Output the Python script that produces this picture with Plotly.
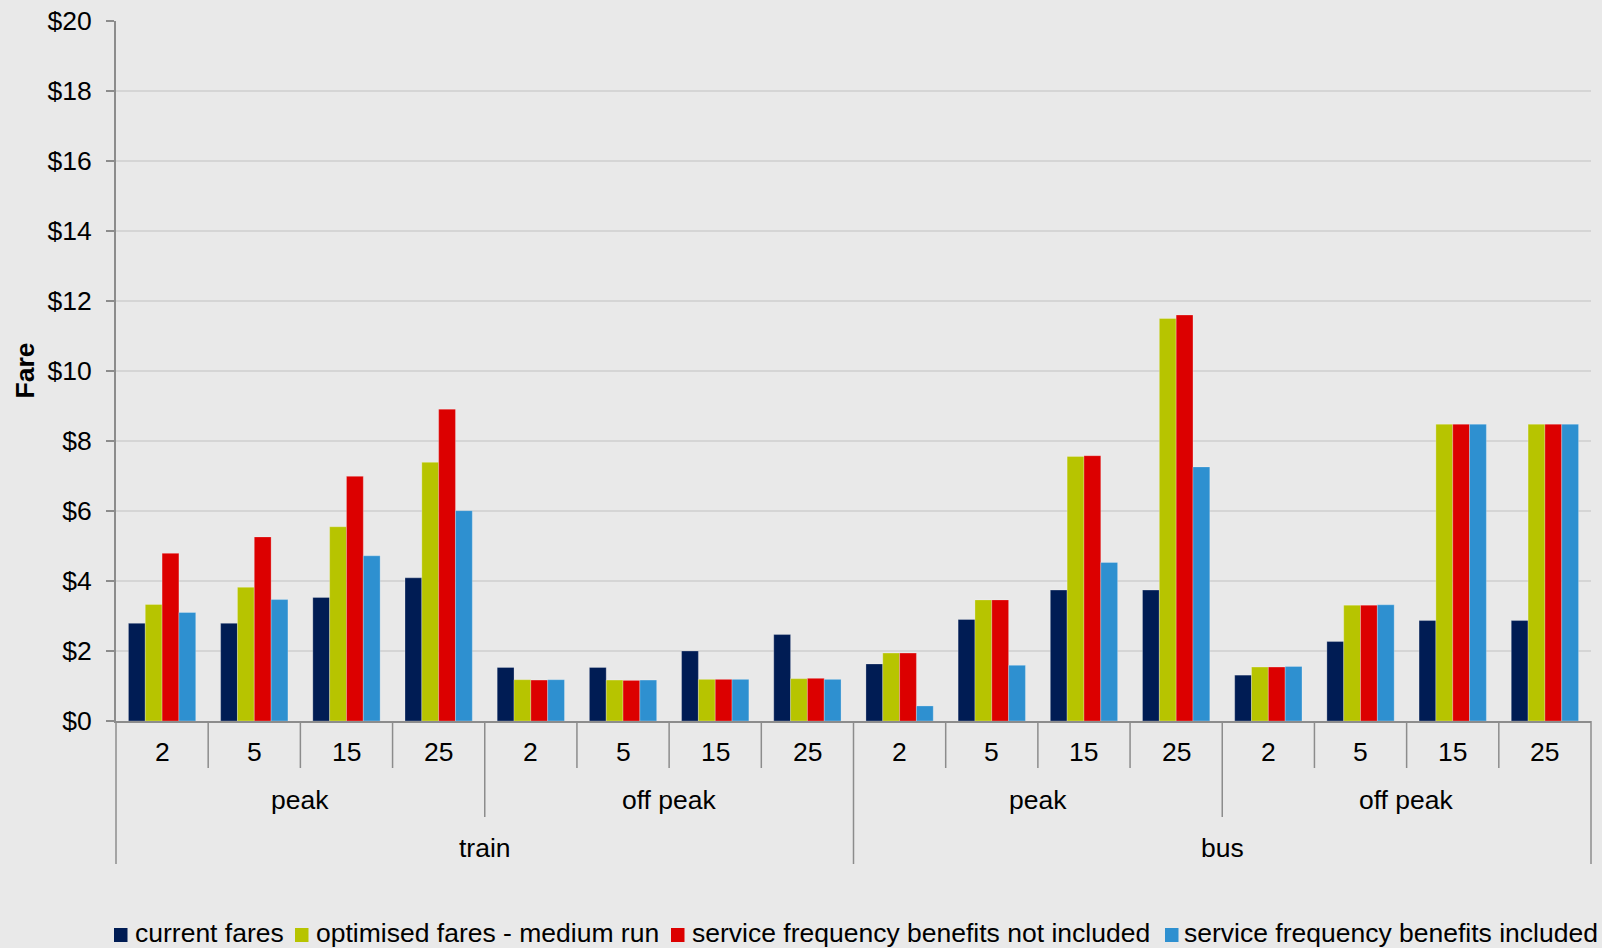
import plotly.graph_objects as go

# ---- data -------------------------------------------------------------
modes = ["train", "bus"]
periods = ["peak", "off peak"]
distances = ["2", "5", "15", "25"]

series_names = [
    "current fares",
    "optimised fares - medium run",
    "service frequency benefits not included",
    "service frequency benefits included",
]

current_fares = [2.79, 2.79, 3.53, 4.09, 1.53, 1.53, 2.00, 2.47,
                 1.63, 2.90, 3.74, 3.74, 1.31, 2.27, 2.87, 2.87]
optimised_fares = [3.33, 3.82, 5.55, 7.39, 1.18, 1.17, 1.19, 1.21,
                   1.94, 3.46, 7.56, 11.50, 1.54, 3.31, 8.48, 8.48]
benefits_not_included = [4.79, 5.26, 6.99, 8.91, 1.17, 1.16, 1.19, 1.22,
                         1.94, 3.46, 7.58, 11.60, 1.54, 3.31, 8.48, 8.48]
benefits_included = [3.10, 3.47, 4.72, 6.01, 1.18, 1.17, 1.19, 1.19,
                     0.43, 1.59, 4.53, 7.26, 1.56, 3.32, 8.48, 8.48]

y_ticks = list(range(0, 21, 2))

# ---- styling ----------------------------------------------------------
colors = ["#001c54", "#b7c400", "#dc0000", "#2e90d0"]
bg = "#e9e9e9"
axis_col = "#8c8c8c"
grid_col = "#d5d5d5"
font_family = "Liberation Sans, Arial, sans-serif"
fs = 26.5

W, H = 1602, 948
ml, mr, mt, mb = 116, 11, 21, 227
plot_w = W - ml - mr
plot_h = H - mt - mb

# category keys: one per mode / period / distance combination
keys = [f"{m} {p} {d}" for m in modes for p in periods for d in distances]
n_cat = len(keys)
n_per_period = len(distances)
n_per_mode = len(periods) * len(distances)

fig = go.Figure()
for name, vals, col in zip(series_names,
                           [current_fares, optimised_fares,
                            benefits_not_included, benefits_included],
                           colors):
    fig.add_trace(go.Bar(
        x=keys, y=vals, name=name, marker_color=col,
        marker_line=dict(width=1, color="rgba(255,255,255,0.25)"),
        showlegend=False,
    ))

annotations = []
shapes = []

def px_below(p):
    """paper y for a pixel distance below the x axis"""
    return -p / plot_h

# distance labels + short separators
for i, k in enumerate(keys):
    d = distances[i % n_per_period]
    annotations.append(dict(x=i, y=0, xref="x", yref="paper", text=d,
                            showarrow=False, yanchor="middle", yshift=-31,
                            font=dict(size=fs, color="#000", family=font_family)))
for b in range(n_cat + 1):
    if b % n_per_mode == 0:
        depth = 143
    elif b % n_per_period == 0:
        depth = 96
    else:
        depth = 47
    shapes.append(dict(type="line", xref="paper", yref="paper",
                       x0=b / n_cat, x1=b / n_cat, y0=0, y1=px_below(depth),
                       line=dict(color=axis_col, width=1.5)))

# period and mode labels
for mi, m in enumerate(modes):
    for pi, p in enumerate(periods):
        start = mi * n_per_mode + pi * n_per_period
        centre = start + (n_per_period - 1) / 2
        annotations.append(dict(x=centre, y=0, xref="x", yref="paper", text=p,
                                showarrow=False, yanchor="middle", yshift=-79,
                                font=dict(size=fs, color="#000", family=font_family)))
    centre = mi * n_per_mode + (n_per_mode - 1) / 2
    annotations.append(dict(x=centre, y=0, xref="x", yref="paper", text=m,
                            showarrow=False, yanchor="middle", yshift=-127,
                            font=dict(size=fs, color="#000", family=font_family)))

# y axis title
annotations.append(dict(x=(24.5 - ml) / plot_w, y=0.5, xref="paper", yref="paper",
                        text="<b>Fare</b>", textangle=-90, showarrow=False,
                        xanchor="center", yanchor="middle",
                        font=dict(size=fs, color="#000", family=font_family)))

# legend row drawn along the bottom
legend_square_px = [114, 295, 671, 1165]
legend_text_px = [133, 313.5, 689.5, 1182]
legend_y_px = 935
for name, col, sx, tx in zip(series_names, colors, legend_square_px, legend_text_px):
    shapes.append(dict(type="rect", xref="paper", yref="paper",
                       x0=(sx - ml) / plot_w, x1=(sx + 13.5 - ml) / plot_w,
                       y0=px_below(legend_y_px - 7 - (H - mb)),
                       y1=px_below(legend_y_px + 7 - (H - mb)),
                       fillcolor=col, line=dict(width=0)))
    annotations.append(dict(x=(tx - ml) / plot_w, y=px_below(legend_y_px - 2 - (H - mb)),
                            xref="paper", yref="paper", text=name, showarrow=False,
                            xanchor="left", yanchor="middle",
                            font=dict(size=fs, color="#000", family=font_family)))

fig.update_layout(
    width=W, height=H,
    margin=dict(l=ml, r=mr, t=mt, b=mb, pad=0, autoexpand=False),
    paper_bgcolor=bg, plot_bgcolor=bg,
    barmode="group", bargap=0.27, bargroupgap=0,
    font=dict(family=font_family, size=fs, color="#000"),
    annotations=annotations, shapes=shapes,
    showlegend=False,
)
fig.update_xaxes(
    type="category", showticklabels=False, ticks="",
    showline=True, linecolor=axis_col, linewidth=2,
    showgrid=False, zeroline=False, fixedrange=True, automargin=False,
)
fig.update_yaxes(
    range=[0, 20], tickvals=y_ticks, ticktext=[f"${v}" for v in y_ticks],
    ticks="outside", ticklen=8, tickwidth=1.5, tickcolor=axis_col,
    ticklabelstandoff=9, automargin=False,
    showline=True, linecolor=axis_col, linewidth=2,
    showgrid=True, gridcolor=grid_col, gridwidth=2,
    zeroline=False, tickfont=dict(size=fs, color="#000", family=font_family),
)

fig.write_html("out.html")
